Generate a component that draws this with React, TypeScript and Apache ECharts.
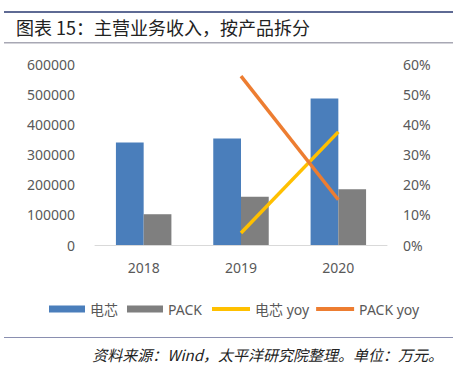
import React, { useEffect, useRef } from "react";
import * as echarts from "echarts";

const categories = ["2018", "2019", "2020"];
const cellRevenue = [340000, 353000, 486000];
const packRevenue = [102000, 160000, 185000];
const cellYoy = [null, 4, 37.5];
const packYoy = [null, 56, 15];
const leftTicks = { min: 0, max: 600000, interval: 100000 };
const rightTicks = { min: 0, max: 60, interval: 10 };

const FONT = "'Noto Sans', 'Noto Sans CJK SC', sans-serif";
const TXT = "#595959";

export default function App() {
  const ref = useRef<HTMLDivElement>(null);
  useEffect(() => {
    document.body.style.margin = "0";
    const chart = echarts.init(ref.current!, null, { renderer: "svg" });
    chart.setOption({
      animation: false,
      backgroundColor: "#ffffff",
      textStyle: { fontFamily: FONT },
      graphic: [
        { type: "rect", shape: { x: 4, y: 11, width: 449, height: 2 }, style: { fill: "#5E6A94" } },
        { type: "rect", shape: { x: 4, y: 42, width: 449, height: 1.5 }, style: { fill: "#A8A8B4" } },
        {
          type: "text",
          x: 16,
          y: 27,
          style: {
            text: "图表 15：主营业务收入，按产品拆分",
            font: "18px 'Noto Sans CJK SC', sans-serif",
            fill: "#222222",
            textVerticalAlign: "middle",
            verticalAlign: "middle",
          },
        },
        { type: "rect", shape: { x: 4, y: 337, width: 449, height: 1 }, style: { fill: "#8A8FB0" } },
        {
          type: "text",
          x: 443,
          y: 354,
          style: {
            text: "资料来源：Wind，太平洋研究院整理。单位：万元。",
            font: "italic 15px 'Noto Sans CJK SC', sans-serif",
            fill: "#222222",
            align: "right",
            textAlign: "right",
            verticalAlign: "middle",
            textVerticalAlign: "middle",
          },
        },
      ],
      legend: [
        {
          data: ["电芯", "PACK"],
          left: 44,
          top: 297,
          icon: "rect",
          itemWidth: 36,
          itemHeight: 7,
          itemGap: 9,
          textStyle: { color: TXT, fontSize: 14, fontFamily: FONT },
        },
        {
          data: ["电芯 yoy", "PACK yoy"],
          left: 207,
          top: 297,
          icon: "rect",
          itemWidth: 38,
          itemHeight: 4,
          itemGap: 7,
          textStyle: { color: TXT, fontSize: 14, fontFamily: FONT },
        },
      ],
      grid: { left: 95, right: 87, top: 64, bottom: 121 },
      xAxis: {
        type: "category",
        data: categories,
        axisLine: { lineStyle: { color: "#D9D9D9", width: 1 } },
        axisTick: { show: false },
        axisLabel: { color: TXT, fontSize: 14, margin: 15, fontFamily: FONT },
      },
      yAxis: [
        {
          type: "value",
          ...leftTicks,
          splitLine: { show: false },
          axisLine: { show: false },
          axisTick: { show: false },
          axisLabel: {
            color: TXT,
            fontSize: 14,
            margin: 20,
            fontFamily: FONT,
            formatter: (v: number) => String(v),
          },
        },
        {
          type: "value",
          ...rightTicks,
          position: "right",
          splitLine: { show: false },
          axisLine: { show: false },
          axisTick: { show: false },
          axisLabel: { color: TXT, fontSize: 14, margin: 16, fontFamily: FONT, formatter: "{value}%" },
        },
      ],
      series: [
        {
          name: "电芯",
          type: "bar",
          data: cellRevenue,
          itemStyle: { color: "#4A7EBB" },
          barGap: "0%",
          barCategoryGap: "43%",
        },
        {
          name: "PACK",
          type: "bar",
          data: packRevenue,
          itemStyle: { color: "#7F7F7F" },
          barGap: "0%",
          barCategoryGap: "43%",
        },
        {
          name: "电芯 yoy",
          type: "line",
          yAxisIndex: 1,
          data: cellYoy,
          symbol: "none",
          itemStyle: { color: "#FFC000" },
          lineStyle: { color: "#FFC000", width: 3.5 },
          z: 5,
        },
        {
          name: "PACK yoy",
          type: "line",
          yAxisIndex: 1,
          data: packYoy,
          symbol: "none",
          itemStyle: { color: "#ED7D31" },
          lineStyle: { color: "#ED7D31", width: 3.5 },
          z: 5,
        },
      ],
    });
    return () => chart.dispose();
  }, []);
  return (
    <div
      ref={ref}
      style={{ position: "absolute", left: 0, top: 0, width: 474, height: 366 }}
    />
  );
}
